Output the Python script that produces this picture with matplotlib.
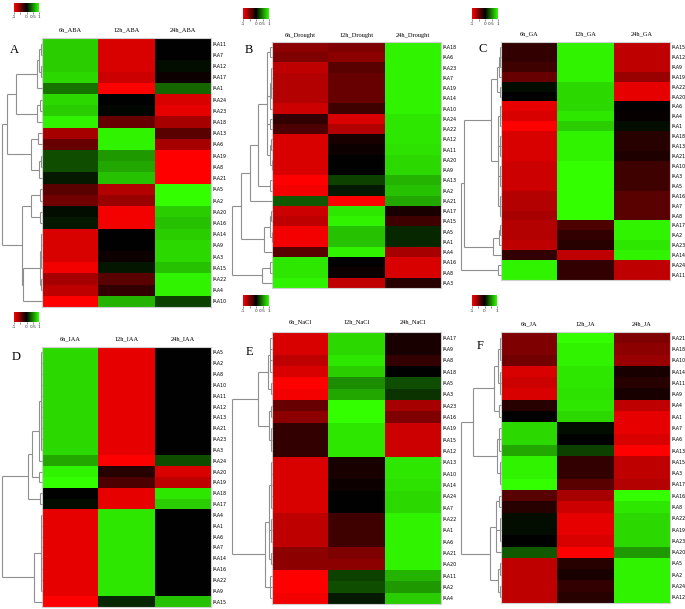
import matplotlib
matplotlib.use("Agg")
import matplotlib.pyplot as plt
import numpy as np
from matplotlib.colors import LinearSegmentedColormap

W, H = 685, 609

# ---------------------------------------------------------------------------
# data (scale -1 .. 1)
# ---------------------------------------------------------------------------

aba_cols = ["6h_ABA", "12h_ABA", "24h_ABA"]
aba_genes = ["IAA11", "IAA7", "IAA12", "IAA17", "IAA1", "IAA24", "IAA23", "IAA18",
             "IAA13", "IAA6", "IAA19", "IAA8", "IAA21", "IAA5", "IAA2", "IAA20",
             "IAA16", "IAA14", "IAA9", "IAA3", "IAA15", "IAA22", "IAA4", "IAA10"]
aba_vals = [[0.8, -0.85, 0.0], [0.8, -0.85, 0.0], [0.8, -0.85, 0.05], [0.85, -0.8, -0.05],
            [0.45, -1.0, 0.4], [0.85, 0.0, -0.85], [0.8, 0.03, -0.9], [0.95, -0.4, -0.65],
            [-0.65, 0.95, -0.35], [-0.4, 0.95, -0.65], [0.3, 0.6, -1.0], [0.3, 0.65, -1.0],
            [0.1, 0.75, -1.0], [-0.35, -0.7, 1.0], [-0.45, -0.6, 1.0], [0.05, -0.95, 0.8],
            [0.1, -0.95, 0.75], [-0.85, 0.0, 0.8], [-0.85, 0.0, 0.85], [-0.85, -0.05, 0.85],
            [-0.95, 0.08, 0.75], [-0.65, -0.35, 0.95], [-0.75, -0.2, 0.95], [-1.0, 0.7, 0.25]]
aba_tree = [1.0,
            [0.875,
             [0.65,
              [0.125, [0.075, [0.03, 0, 1], [0.03, 2, 3]], 4],
              [0.12, [0.04, 5, 6], 7]],
             [0.27, [0.1, 8, 9], [0.08, [0.02, 10, 11], 12]]],
            [0.5,
             [0.27, [0.06, 13, 14], [0.05, 15, 16]],
             [0.47, [0.05, [0.02, 17, 18, 19, 20], [0.03, 21, 22]], 23]]]

drought_cols = ["6h_Drought", "12h_Drought", "24h_Drought"]
drought_genes = ["IAA18", "IAA6", "IAA23", "IAA7", "IAA19", "IAA14", "IAA10", "IAA24",
                 "IAA22", "IAA12", "IAA11", "IAA20", "IAA9", "IAA13", "IAA2", "IAA21",
                 "IAA17", "IAA15", "IAA5", "IAA1", "IAA4", "IAA16", "IAA8", "IAA3"]
drought_vals = [[-0.55, -0.5, 0.95], [-0.5, -0.55, 0.95], [-0.75, -0.35, 0.95], [-0.7, -0.4, 0.95],
                [-0.7, -0.4, 0.95], [-0.7, -0.4, 0.95], [-0.8, -0.25, 0.95], [-0.2, -0.85, 0.9],
                [-0.3, -0.7, 0.9], [-0.85, -0.1, 0.9], [-0.85, -0.05, 0.88], [-0.85, 0.0, 0.85],
                [-0.85, 0.0, 0.85], [-1.0, 0.25, 0.7], [-0.95, 0.1, 0.75], [0.35, -1.0, 0.65],
                [-0.8, 0.9, -0.1], [-0.75, 0.95, -0.25], [-0.95, 0.75, 0.15], [-0.95, 0.75, 0.15],
                [-0.35, 0.95, -0.65], [0.9, 0.0, -0.85], [0.9, -0.05, -0.85], [0.95, -0.75, -0.15]]
drought_tree = [1.0,
                [0.78,
                 [0.55,
                  [0.35,
                   [0.12, [0.05, 0, 1], [0.04, [0.02, 2, 3, 4, 5], 6], [0.06, 7, 8],
                    [0.04, [0.02, 9, 10], [0.01, 11, 12]]],
                   [0.05, 13, 14]],
                  15],
                 [0.2, [0.06, [0.03, 16, 17], [0.01, 18, 19]], 20]],
                [0.25, [0.05, 21, 22], 23]]

ga_cols = ["6h_GA", "12h_GA", "24h_GA"]
ga_genes = ["IAA15", "IAA12", "IAA9", "IAA19", "IAA22", "IAA20", "IAA6", "IAA4",
            "IAA1", "IAA18", "IAA13", "IAA21", "IAA10", "IAA3", "IAA5", "IAA16",
            "IAA7", "IAA8", "IAA17", "IAA2", "IAA23", "IAA14", "IAA24", "IAA11"]
ga_vals = [[-0.2, 0.95, -0.75], [-0.2, 0.95, -0.75], [-0.25, 0.95, -0.75], [-0.4, 0.95, -0.6],
           [0.05, 0.85, -0.9], [0.0, 0.85, -0.9], [-0.9, 0.85, 0.0], [-0.85, 0.9, -0.03],
           [-1.0, 0.8, 0.05], [-0.85, 0.95, -0.15], [-0.85, 0.95, -0.15], [-0.85, 0.95, -0.12],
           [-0.8, 1.0, -0.25], [-0.8, 1.0, -0.25], [-0.8, 1.0, -0.25], [-0.7, 1.0, -0.35],
           [-0.7, 1.0, -0.35], [-0.65, 1.0, -0.35], [-0.7, -0.3, 0.95], [-0.7, -0.2, 0.95],
           [-0.75, -0.15, 0.9], [-0.2, -0.75, 0.95], [0.95, -0.2, -0.75], [0.95, -0.2, -0.75]]
ga_tree = [1.0,
           [0.92,
            [0.25,
             [0.1, [0.04, [0.02, 0, 1, 2], 3], [0.02, 4, 5]],
             [0.08, [0.03, 6, 7, 8], [0.02, 9, 10, 11], [0.02, 12, 13, 14], [0.02, 15, 16, 17]]],
            [0.2, [0.05, [0.02, 18, 19], 20], 21]],
           [0.08, 22, 23]]

iaa_cols = ["6h_IAA", "12h_IAA", "24h_IAA"]
iaa_genes = ["IAA5", "IAA2", "IAA8", "IAA10", "IAA11", "IAA12", "IAA13", "IAA21",
             "IAA23", "IAA3", "IAA24", "IAA20", "IAA19", "IAA18", "IAA17", "IAA4",
             "IAA1", "IAA6", "IAA7", "IAA14", "IAA16", "IAA22", "IAA9", "IAA15"]
iaa_vals = [[0.85, -0.9, 0.0]] * 10 + \
           [[0.65, -1.0, 0.3], [0.95, -0.15, -0.85], [1.0, -0.3, -0.75],
            [0.0, -0.9, 0.9], [0.05, -0.9, 0.8]] + \
           [[-0.9, 0.9, 0.0]] * 8 + \
           [[-1.0, 0.15, 0.75]]
iaa_tree = [1.0,
            [0.35,
             [0.25, [0.07, [0.02, 0, 1, 2, 3, 4, 5, 6, 7, 8, 9], 10], [0.07, 11, 12]],
             [0.05, 13, 14]],
            [0.2, [0.02, 15, 16, 17, 18, 19, 20, 21, 22], 23]]

nacl_cols = ["6h_NaCl", "12h_NaCl", "24h_NaCl"]
nacl_genes = ["IAA17", "IAA9", "IAA8", "IAA18", "IAA5", "IAA3", "IAA23", "IAA16",
              "IAA19", "IAA15", "IAA12", "IAA13", "IAA10", "IAA14", "IAA24", "IAA7",
              "IAA22", "IAA1", "IAA6", "IAA21", "IAA20", "IAA11", "IAA2", "IAA4"]
nacl_vals = [[-0.85, 0.85, -0.1], [-0.85, 0.85, -0.1], [-0.75, 0.9, -0.2], [-0.85, 0.8, 0.0],
             [-1.0, 0.55, 0.3], [-0.95, 0.65, 0.2], [-0.4, 1.0, -0.65], [-0.55, 1.0, -0.5],
             [-0.2, 0.9, -0.8], [-0.2, 0.9, -0.8], [-0.2, 0.9, -0.8], [-0.85, -0.1, 0.9],
             [-0.85, -0.1, 0.9], [-0.85, -0.05, 0.88], [-0.85, 0.0, 0.85], [-0.85, 0.0, 0.85],
             [-0.75, -0.25, 0.95], [-0.75, -0.25, 0.95], [-0.75, -0.25, 0.95], [-0.55, -0.5, 0.95],
             [-0.55, -0.55, 0.95], [-1.0, 0.25, 0.7], [-1.0, 0.3, 0.6], [-0.95, 0.1, 0.8]]
nacl_tree = [1.0,
             [0.35,
              [0.1, [0.04, 0, 1, 2, 3], [0.03, 4, 5]],
              [0.08, [0.03, 6, 7], [0.02, 8, 9, 10]]],
             [0.18,
              [0.07, [0.02, 11, 12, 13, 14, 15], [0.03, 16, 17, 18], [0.02, 19, 20]],
              [0.05, 21, 22, 23]]]

ja_cols = ["6h_JA", "12h_JA", "24h_JA"]
ja_genes = ["IAA21", "IAA18", "IAA10", "IAA14", "IAA11", "IAA9", "IAA4", "IAA1",
            "IAA7", "IAA6", "IAA13", "IAA15", "IAA3", "IAA17", "IAA16", "IAA8",
            "IAA22", "IAA19", "IAA23", "IAA20", "IAA5", "IAA2", "IAA24", "IAA12"]
ja_vals = [[-0.5, 1.0, -0.5], [-0.5, 0.95, -0.55], [-0.45, 0.95, -0.6], [-0.85, 0.9, -0.1],
           [-0.8, 0.9, -0.15], [-0.85, 0.88, -0.1], [-0.15, 0.9, -0.75], [0.0, 0.85, -0.9],
           [0.85, 0.05, -0.9], [0.85, 0.0, -0.85], [0.65, 0.25, -1.0], [0.95, -0.2, -0.75],
           [0.95, -0.2, -0.75], [1.0, -0.35, -0.7], [-0.35, -0.65, 1.0], [-0.15, -0.8, 0.9],
           [0.05, -0.9, 0.85], [0.05, -0.9, 0.85], [0.0, -0.85, 0.85], [0.35, -1.0, 0.6],
           [-0.75, -0.15, 0.95], [-0.75, -0.1, 0.95], [-0.75, -0.2, 0.95], [-0.75, -0.15, 0.95]]
ja_tree = [1.0,
           [0.7,
            [0.17, [0.08, [0.03, 0, 1, 2], [0.03, 3, 4, 5]], [0.05, 6, 7]],
            [0.1, [0.04, 8, 9, 10], [0.03, 11, 12, 13]]],
           [0.27,
            [0.12, [0.04, 14, 15], [0.03, 16, 17, 18], 19],
            [0.08, [0.03, 20, 21], [0.02, 22, 23]]]]

# ---------------------------------------------------------------------------
# layout (pixel boxes of the reference image)
# ---------------------------------------------------------------------------
# letter, cols, genes, vals, tree, heatmap box (x0, y0, x1, y1), colorbar box,
# column label gap (px), letter position, colorbar tick labels
panels = [
    ("A", aba_cols, aba_genes, aba_vals, aba_tree, (42, 38, 211, 307), (14, 3, 39, 12), 7, (14, 50), True),
    ("B", drought_cols, drought_genes, drought_vals, drought_tree, (272, 42, 441, 288), (243, 8, 269, 19), 5, (249, 50), True),
    ("C", ga_cols, ga_genes, ga_vals, ga_tree, (501, 42, 670, 280), (472, 8, 498, 19), 7, (483, 49), True),
    ("D", iaa_cols, iaa_genes, iaa_vals, iaa_tree, (42, 347, 211, 607), (14, 312, 39, 322), 7, (16, 357), True),
    ("E", nacl_cols, nacl_genes, nacl_vals, nacl_tree, (272, 332, 441, 604), (243, 295, 269, 306), 9, (249, 352), True),
    ("F", ja_cols, ja_genes, ja_vals, ja_tree, (501, 332, 670, 603), (472, 295, 497, 306), 7, (480, 346), False),
]

cmap = LinearSegmentedColormap.from_list(
    "rbg", [(0.0, (1.0, 0.0, 0.0)), (0.5, (0.0, 0.0, 0.0)), (1.0, (0.2, 1.0, 0.0))])

LINE = "#8f8f8f"
SERIF = ["Liberation Serif", "DejaVu Serif"]


def box(x0, y0, x1, y1):
    return [x0 / W, 1 - y1 / H, (x1 - x0) / W, (y1 - y0) / H]


def draw_tree(ax, node, leaf_y):
    """Draw an n-ary dendrogram node, return (y, h) of the node."""
    if isinstance(node, int):
        return leaf_y[node], 0.0
    h = node[0]
    kids = [draw_tree(ax, child, leaf_y) for child in node[1:]]
    ys = [k[0] for k in kids]
    ax.plot([h, h], [min(ys), max(ys)], color=LINE, lw=0.8, clip_on=False,
            solid_capstyle="butt")
    for y, hc in kids:
        ax.plot([hc, h], [y, y], color=LINE, lw=0.8, clip_on=False,
                solid_capstyle="butt")
    return (min(ys) + max(ys)) / 2, h


fig = plt.figure(figsize=(W / 100, H / 100), dpi=100)

for (letter, cols, genes, vals, tree, hb, cb, gap, lpos, full_ticks) in panels:
    x0, y0, x1, y1 = hb
    n = len(genes)

    # heatmap
    ax = fig.add_axes(box(*hb))
    ax.imshow(np.array(vals), cmap=cmap, vmin=-1, vmax=1, aspect="auto",
              interpolation="nearest")
    ax.set_xticks(range(len(cols)))
    ax.set_xticklabels(cols, fontsize=4.6, family=SERIF)
    ax.xaxis.tick_top()
    ax.set_yticks(range(n))
    ax.set_yticklabels(genes, fontsize=3.9, family="DejaVu Sans",
                       fontstretch="condensed")
    ax.yaxis.tick_right()
    ax.tick_params(axis="x", length=0, pad=gap * 0.72 - 1)
    ax.tick_params(axis="y", length=0, pad=1.0)
    for sp in ax.spines.values():
        sp.set_color("#d0d0d0")
        sp.set_linewidth(0.8)

    # dendrogram
    dax = fig.add_axes(box(x0 - 40, y0, x0, y1))
    dax.set_xlim(1.0, 0.0)
    dax.set_ylim(n - 0.5, -0.5)
    draw_tree(dax, tree, list(range(n)))
    dax.axis("off")

    # colour key
    cax = fig.add_axes(box(*cb))
    cax.imshow(np.linspace(-1, 1, 256)[None, :], cmap=cmap, vmin=-1, vmax=1,
               aspect="auto", extent=(-1, 1, 0, 1))
    cax.set_yticks([])
    cax.set_xticks([-1, -0.5, 0, 0.5, 1])
    if full_ticks:
        cax.set_xticklabels(["-1", "", "0", "0.5", "1"])
    else:
        cax.set_xticklabels(["-1", "", "0", "", "1"])
    cax.tick_params(axis="x", length=1.5, width=0.4, pad=0.8, labelsize=3.2,
                    colors="#333333")
    for sp in cax.spines.values():
        sp.set_visible(False)

    fig.text(lpos[0] / W, 1 - lpos[1] / H, letter, fontsize=9, family=SERIF,
             ha="center", va="center")

fig.savefig("out.png", dpi=100)
